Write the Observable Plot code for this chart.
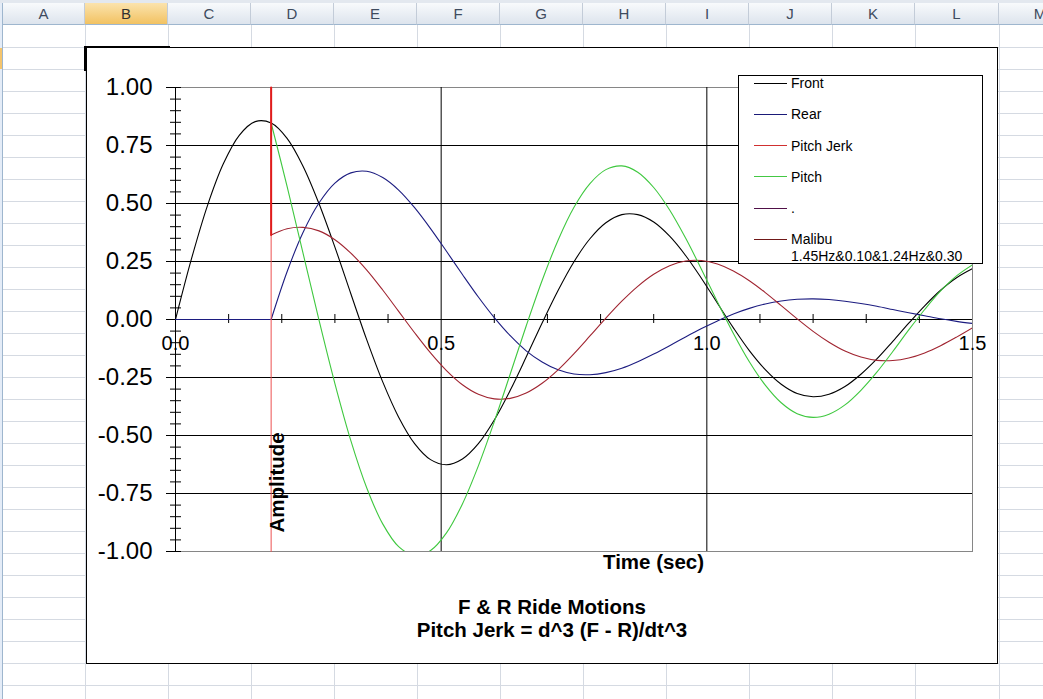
<!DOCTYPE html>
<html>
<head>
<meta charset="utf-8">
<script src="https://cdn.jsdelivr.net/npm/d3@7"></script>
<script src="https://cdn.jsdelivr.net/npm/@observablehq/plot@0.6"></script>
<style>
html, body { margin: 0; padding: 0; background: #fff; }
body { width: 1043px; height: 699px; overflow: hidden; position: relative; font-family: "Liberation Sans", Arial, sans-serif; }
#sheet { position: absolute; left: 0; top: 0; width: 1043px; height: 699px; }
.hdr { position: absolute; top: 3px; height: 22px; box-sizing: border-box; border-right: 1px solid #c3ccd8; border-bottom: 1px solid #9eb6ce;
  background: linear-gradient(#f8fafc, #dde4ed); color: #3e4b5e; font-size: 15px; text-align: center; line-height: 22px; overflow: hidden; }
.hdr.sel { background: linear-gradient(#fbe3ad, #f2c262); color: #303030; }
#chart { position: absolute; left: 86px; top: 47px; width: 912px; height: 617px; box-sizing: border-box; border: 1px solid #000; background: #fff; }
#plot { position: absolute; left: 0; top: 0; }
#legend { position: absolute; left: 651px; top: 27px; width: 245px; height: 189px; box-sizing: border-box; border: 1px solid #000; background: #fff; font-size: 14px; color: #000; }
#legend .sw { position: absolute; left: 15px; width: 33px; height: 1px; }
#legend .lb { position: absolute; left: 52px; line-height: 16.7px; white-space: pre; }
#title { position: absolute; left: 20px; right: 0; top: 547px; text-align: center; font-weight: bold; font-size: 20.5px; line-height: 23px; color: #000; }
</style>
</head>
<body>
<div id="sheet"></div>
<div id="chart">
  <div id="plot"></div>
  <div id="legend"></div>
  <div id="title">F &amp; R Ride Motions<br>Pitch Jerk = d^3 (F - R)/dt^3</div>
</div>
<script>
// ---------- data ----------
const time = [
  0, 0.03, 0.06, 0.09, 0.12, 0.15, 0.18, 0.21, 0.24, 0.27,
  0.30, 0.33, 0.36, 0.39, 0.42, 0.45, 0.48, 0.51, 0.54, 0.57,
  0.60, 0.63, 0.66, 0.69, 0.72, 0.75, 0.78, 0.81, 0.84, 0.87,
  0.90, 0.93, 0.96, 0.99, 1.02, 1.05, 1.08, 1.11, 1.14, 1.17,
  1.20, 1.23, 1.26, 1.29, 1.32, 1.35, 1.38, 1.41, 1.44, 1.47,
  1.50
];
const front = [
  0, 0.261, 0.490, 0.671, 0.794, 0.853, 0.847, 0.781, 0.661, 0.500,
  0.312, 0.111, -0.088, -0.269, -0.421, -0.535, -0.604, -0.626, -0.601, -0.535,
  -0.433, -0.305, -0.162, -0.015, 0.125, 0.249, 0.348, 0.417, 0.452, 0.452,
  0.420, 0.359, 0.276, 0.177, 0.070, -0.036, -0.134, -0.216, -0.279, -0.319,
  -0.333, -0.322, -0.289, -0.236, -0.170, -0.094, -0.016, 0.059, 0.126, 0.180,
  0.219
];
const rear = [
  0, 0, 0, 0, 0, 0, 0, 0.206, 0.375, 0.502,
  0.588, 0.632, 0.639, 0.612, 0.558, 0.482, 0.392, 0.294, 0.194, 0.097,
  0.008, -0.070, -0.135, -0.183, -0.217, -0.235, -0.238, -0.229, -0.210, -0.182,
  -0.149, -0.113, -0.075, -0.039, -0.006, 0.024, 0.048, 0.067, 0.080, 0.087,
  0.089, 0.086, 0.079, 0.069, 0.057, 0.043, 0.029, 0.016, 0.003, -0.008,
  -0.017
];
const pitch = [
  null, null, null, null, null, null, 0.847, 0.574, 0.286, -0.002,
  -0.276, -0.522, -0.726, -0.881, -0.979, -1.017, -0.996, -0.920, -0.795, -0.631,
  -0.440, -0.235, -0.028, 0.168, 0.342, 0.484, 0.586, 0.646, 0.662, 0.635,
  0.569, 0.472, 0.351, 0.216, 0.076, -0.060, -0.182, -0.283, -0.359, -0.406,
  -0.422, -0.408, -0.368, -0.305, -0.227, -0.138, -0.045, 0.043, 0.123, 0.188,
  0.236
];
const pitchJerk = [
  null, null, null, null, null, null, 0.364, 0.391, 0.397, 0.382,
  0.344, 0.286, 0.213, 0.127, 0.035, -0.057, -0.144, -0.220, -0.281, -0.322,
  -0.342, -0.340, -0.317, -0.275, -0.217, -0.147, -0.071, 0.006, 0.079, 0.143,
  0.195, 0.232, 0.252, 0.254, 0.239, 0.209, 0.167, 0.116, 0.060, 0.003,
  -0.051, -0.098, -0.136, -0.162, -0.176, -0.177, -0.166, -0.144, -0.113, -0.076,
  -0.036
];
// impulse of the pitch jerk at the rear-wheel onset
const impulseTime = [0.18, 0.18];
const impulseValue = [1.0, -1.0];
// jump of the jerk curve from the impulse top down to its start value
const jumpTime = [0.18, 0.18];
const jumpValue = [1.0, 0.364];

// axis ticks
const yTicks = [-1, -0.75, -0.5, -0.25, 0, 0.25, 0.5, 0.75, 1];
const yMinorTicks = [-1, -0.95, -0.9, -0.85, -0.8, -0.75, -0.7, -0.65, -0.6, -0.55, -0.5, -0.45, -0.4, -0.35, -0.3, -0.25, -0.2, -0.15, -0.1, -0.05,
  0, 0.05, 0.1, 0.15, 0.2, 0.25, 0.3, 0.35, 0.4, 0.45, 0.5, 0.55, 0.6, 0.65, 0.7, 0.75, 0.8, 0.85, 0.9, 0.95, 1];
const yGrid = [-0.75, -0.5, -0.25, 0.25, 0.5, 0.75];
const xGrid = [0.5, 1.0];
const xMinorTicks = [0.1, 0.2, 0.3, 0.4, 0.6, 0.7, 0.8, 0.9, 1.1, 1.2, 1.3, 1.4];
const xTickLabels = [0, 0.5, 1.0, 1.5];

// legend
const legendNames = ["Front", "Rear", "Pitch Jerk", "Pitch", ".", "Malibu\n1.45Hz&0.10&1.24Hz&0.30"];
const legendColors = ["#000000", "#1a1a78", "#d03030", "#44c844", "#501048", "#701818"];

// spreadsheet decoration
const columns = ["A", "B", "C", "D", "E", "F", "G", "H", "I", "J", "K", "L", "M"];
const colEdges = [3, 85, 168, 251, 334, 417, 500, 583, 666, 749, 832, 915, 999, 1082];

// ---------- spreadsheet background ----------
const sheet = document.getElementById("sheet");
function box(css, text) {
  const d = document.createElement("div");
  d.style.cssText = "position:absolute;" + css;
  if (text != null) d.textContent = text;
  sheet.appendChild(d);
  return d;
}
box("left:0;top:0;width:1043px;height:3px;background:#e3e8ef;");
box("left:0;top:3px;width:3px;height:696px;background:#e4ecf7;border-right:1px solid #9eb6ce;box-sizing:border-box;");
box("left:0;top:48px;width:2px;height:21px;background:#f4c46c;");
for (let y = 47; y < 699; y += 22) box(`left:3px;top:${y}px;width:1040px;height:1px;background:#d5dae2;`);
colEdges.slice(1, -1).forEach(x => box(`left:${x}px;top:25px;width:1px;height:674px;background:#d5dae2;`));
columns.forEach((c, i) => {
  const d = box(`left:${colEdges[i]}px;width:${colEdges[i + 1] - colEdges[i]}px;`, c);
  d.className = c === "B" ? "hdr sel" : "hdr";
});
box("left:84px;top:46px;width:86px;height:25px;border:2px solid #000;box-sizing:border-box;");

// ---------- chart ----------
const rows = time.map((t, i) => ({t, front: front[i], rear: rear[i], pitch: pitch[i], jerk: pitchJerk[i]}));
const rearFlat = rows.filter(d => d.t <= 0.18);
const rearMoving = rows.filter(d => d.t >= 0.18);
const pitchRows = rows.filter(d => d.pitch != null);
const jerkRows = rows.filter(d => d.jerk != null);
const impulse = impulseTime.map((t, i) => ({t, v: impulseValue[i]}));
const jump = jumpTime.map((t, i) => ({t, v: jumpValue[i]}));

const chart = Plot.plot({
  width: 910,
  height: 530,
  marginLeft: 88,
  marginRight: 25,
  marginTop: 39,
  marginBottom: 27,
  x: {domain: [0, 1.5], axis: null},
  y: {domain: [-1, 1], axis: null},
  style: {fontFamily: '"Liberation Sans", Arial, sans-serif', background: "transparent", color: "#000", overflow: "visible"},
  marks: [
    Plot.frame({stroke: "#868686"}),
    Plot.ruleY(yGrid, {stroke: "#000"}),
    Plot.ruleX(xGrid, {stroke: "#000"}),
    Plot.ruleY([0], {stroke: "#000"}),
    Plot.ruleX([0], {stroke: "#000"}),
    Plot.axisY(yTicks, {tickSize: 9, tickPadding: 14, tickFormat: d => d.toFixed(2), fontSize: 24, label: null}),
    Plot.axisY(yMinorTicks, {tickSize: 11, dx: 6, tickFormat: () => "", label: null}),
    Plot.ruleX(xMinorTicks, {y1: 0, y2: 0, insetTop: -5, insetBottom: -4, stroke: "#000"}),
    Plot.text(xTickLabels, {x: d => d, y: 0, text: d => d.toFixed(1), dy: 24, fontSize: 20}),
    Plot.line(rows, {x: "t", y: "front", stroke: "#000", strokeWidth: 1.1, curve: "catmull-rom", clip: true}),
    Plot.line(rearFlat, {x: "t", y: "rear", stroke: "#1c1c80", strokeWidth: 1.1}),
    Plot.line(rearMoving, {x: "t", y: "rear", stroke: "#1c1c80", strokeWidth: 1.1, curve: "catmull-rom", clip: true}),
    Plot.line(jerkRows, {x: "t", y: "jerk", stroke: "#a02430", strokeWidth: 1.1, curve: "catmull-rom", clip: true}),
    Plot.line(pitchRows, {x: "t", y: "pitch", stroke: "#3fc83f", strokeWidth: 1.1, curve: "catmull-rom", clip: true}),
    Plot.line(impulse, {x: "t", y: "v", stroke: "#ec5050", strokeWidth: 1}),
    Plot.line(jump, {x: "t", y: "v", stroke: "#e01c1c", strokeWidth: 2}),
    Plot.text(["Amplitude"], {text: d => d, frameAnchor: "bottom-left", rotate: -90, textAnchor: "start", lineAnchor: "middle",
      dx: 102, dy: -19, fontWeight: "bold", fontSize: 20.5}),
    Plot.text(["Time (sec)"], {text: d => d, frameAnchor: "bottom", lineAnchor: "middle",
      dx: 79.5, dy: 10.5, fontWeight: "bold", fontSize: 20.5})
  ]
});
document.getElementById("plot").appendChild(chart);

// ---------- legend ----------
const legend = document.getElementById("legend");
legendNames.forEach((name, i) => {
  const sw = document.createElement("div");
  sw.className = "sw";
  sw.style.top = Math.round(6.8 + 31.2 * i) + "px";
  sw.style.background = legendColors[i];
  legend.appendChild(sw);
  const lb = document.createElement("div");
  lb.className = "lb";
  lb.style.top = Math.round(-0.9 + 31.2 * i) + "px";
  lb.textContent = name;
  legend.appendChild(lb);
});
</script>
</body>
</html>
